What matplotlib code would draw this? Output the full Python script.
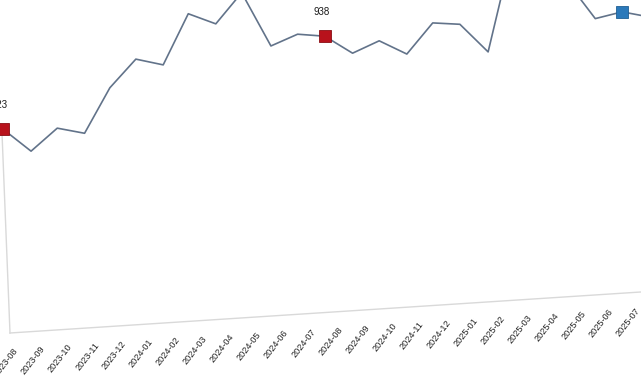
import matplotlib
matplotlib.use('Agg')
import matplotlib.pyplot as plt
from matplotlib.transforms import Affine2D
import numpy as np

# ---- data ----
months = ['2023-08', '2023-09', '2023-10', '2023-11', '2023-12', '2024-01',
          '2024-02', '2024-03', '2024-04', '2024-05', '2024-06', '2024-07',
          '2024-08', '2024-09', '2024-10', '2024-11', '2024-12', '2025-01',
          '2025-02', '2025-03', '2025-04', '2025-05', '2025-06', '2025-07',
          '2025-08']
values = [823, 785, 819, 808, 878, 921, 909, 988, 969, 1016, 928, 944,
          938, 908, 925, 901, 948, 943, 896, 1049, 1060, 1001, 938, 946, 935]
red_months = ['2023-08', '2024-08']
blue_months = ['2025-07']

plt.rcParams['font.family'] = ['Liberation Sans', 'DejaVu Sans']

DPI = 100
fig = plt.figure(figsize=(6.41, 3.80), dpi=DPI)
fig.patch.set_facecolor('white')

ox, oy = 10, 47          # axes origin in pixels
W, H = 676.25, 420       # axes size in pixels (extends past the crop)
ax = fig.add_axes([ox / 641, oy / 380, W / 641, H / 380])
ax.set_xlim(-0.0444, 24.956)
ax.set_ylim(497, 497 + 1.6 * H)
ax.set_axis_off()

# slight perspective-like shear of the whole plot
shear = (Affine2D().translate(-ox, -oy)
         + Affine2D(np.array([[1.0, -0.04, 0.0], [0.065, 1.0, 0.0], [0.0, 0.0, 1.0]]))
         + Affine2D().translate(ox, oy))
T = ax.transData + shear

x = np.arange(len(months))
xmin, xmax = ax.get_xlim()
ymin, ymax = ax.get_ylim()

# axis lines
ax.plot([xmin, xmax], [ymin, ymin], color='#d9d9d9', lw=1.0, transform=T, clip_on=False)
ax.plot([xmin, xmin], [ymin, values[0]], color='#d9d9d9', lw=1.0, transform=T, clip_on=False)

# main line
ax.plot(x, values, color='#62738a', lw=1.2, transform=T, clip_on=False, zorder=3)

for m, v, i in zip(months, values, x):
    if m in red_months or m in blue_months:
        c = '#b8121c' if m in red_months else '#2b79ba'
        ec = '#8a0d14' if m in red_months else '#1f5f94'
        ax.plot([i], [v], marker='s', ms=9.2, color=c, mec=ec, mew=0.6,
                transform=T, clip_on=False, zorder=4)
        ax.annotate(str(v), xy=(i, v), xycoords=T, xytext=(-2.2, 17.6),
                    textcoords='offset points', ha='center', va='center',
                    fontsize=7, color='#1a1a1a', annotation_clip=False)

# tick labels
lab_T = T + Affine2D().translate(5, -16)
for m, i in zip(months, x):
    ax.text(i, ymin, m, transform=lab_T, rotation=52, rotation_mode='anchor',
            ha='right', va='center', fontsize=6.6, color='#262626', clip_on=False)

fig.savefig('out.png', dpi=DPI, facecolor='white')
